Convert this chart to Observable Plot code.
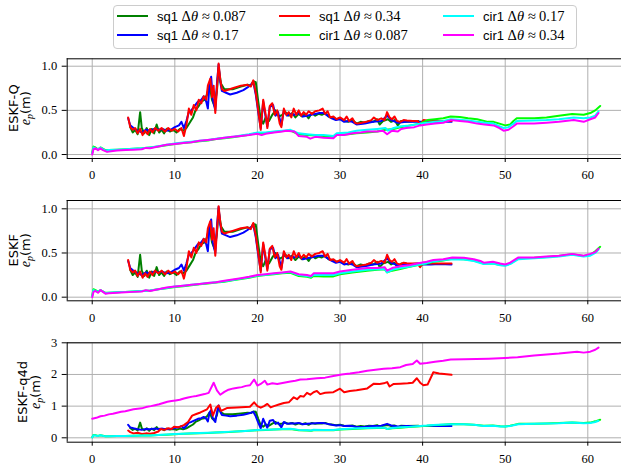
<!DOCTYPE html>
<html><head><meta charset="utf-8">
<script src="https://cdn.jsdelivr.net/npm/d3@7"></script>
<script src="https://cdn.jsdelivr.net/npm/@observablehq/plot@0.6"></script>
<style>
html,body{margin:0;padding:0;background:#fff;overflow:hidden;}
#fig{position:relative;width:621px;height:468px;overflow:hidden;background:#fff;}
.panel{position:absolute;left:0;}
#legend{position:absolute;left:113px;top:5px;width:462px;height:42px;border:1px solid #cccccc;border-radius:4px;background:#fff;}
.swatch{position:absolute;width:31px;height:2px;}
.lbl{position:absolute;white-space:nowrap;font-size:14.5px;line-height:18px;height:18px;color:#000;}
.sf{font-family:"Liberation Sans";font-size:13px;}
.mi{font-family:"Liberation Serif";font-style:italic;}
.mr{font-family:"Liberation Serif";}
</style></head>
<body><div id="fig"><div id="legend"></div></div>
<script>
// ---------- categories / labels ----------
const seriesNames = ["sq1","sq1","sq1","cir1","cir1","cir1"];
const seriesDtheta = ["0.087","0.17","0.34","0.087","0.17","0.34"];
const seriesColors = ["#008000","#0000ff","#ff0000","#00ff00","#00ffff","#ff00ff"];
const panelLabels = ["ESKF-Q","ESKF","ESKF-q4d"];
const xTicks = [0,10,20,30,40,50,60];
const yTicksAB = [0,0.5,1.0];
const yTicksC = [0,1,2,3];

// ---------- series values [t, e_p] ----------
const sq1_087 = [[4.6,0.31],[4.9,0.25],[5.2,0.28],[5.5,0.23],[5.8,0.48],[6.0,0.3],[6.3,0.24],[6.6,0.3],[6.9,0.22],[7.2,0.29],[7.5,0.24],[7.8,0.34],[8.1,0.25],[8.4,0.28],[8.7,0.24],[9.0,0.29],[9.4,0.26],[9.8,0.28],[10.2,0.25],[10.6,0.29],[11.0,0.27],[11.4,0.3],[11.8,0.36],[12.2,0.42],[12.5,0.5],[12.9,0.55],[13.2,0.6],[13.6,0.62],[13.9,0.68],[14.2,0.8],[14.5,0.62],[14.8,0.55],[15.1,0.72],[15.3,0.98],[15.6,0.8],[16.0,0.74],[16.5,0.74],[17,0.74],[18,0.77],[18.8,0.79],[19.2,0.78],[19.5,0.83],[19.8,0.82],[20.1,0.6],[20.4,0.4],[20.7,0.35],[21,0.42],[21.4,0.38],[21.8,0.45],[22.2,0.5],[22.6,0.43],[23,0.45],[23.4,0.48],[23.8,0.44],[24.2,0.47],[24.6,0.42],[25,0.46],[25.4,0.43],[25.8,0.46],[26.2,0.41],[26.6,0.47],[27,0.44],[27.4,0.46],[27.8,0.45],[28.2,0.47],[28.6,0.43],[29,0.42],[29.5,0.4],[30,0.41],[30.5,0.38],[31,0.37],[31.5,0.39],[32,0.35],[32.5,0.37],[33,0.36],[33.5,0.38],[34,0.37],[34.5,0.4],[34.8,0.34],[35.2,0.38],[35.8,0.4],[36.2,0.37],[36.6,0.39],[37,0.33],[37.4,0.38],[38,0.37],[39.5,0.38]];
const sq1_017 = [[4.35,0.41],[4.6,0.33],[5,0.3],[5.5,0.27],[6,0.25],[6.5,0.28],[7,0.27],[7.5,0.29],[8,0.28],[8.5,0.29],[9,0.27],[9.5,0.28],[10,0.31],[10.5,0.33],[10.8,0.37],[11.1,0.3],[11.4,0.38],[11.7,0.48],[12,0.5],[12.4,0.55],[12.8,0.6],[13.2,0.62],[13.5,0.66],[13.8,0.6],[14.0,0.52],[14.2,0.8],[14.4,0.88],[14.6,0.62],[14.9,0.5],[15.1,0.8],[15.3,1.02],[15.5,0.82],[15.7,0.72],[16.2,0.7],[16.7,0.68],[17.5,0.7],[18.3,0.73],[18.8,0.76],[19.2,0.79],[19.5,0.82],[19.8,0.68],[20.1,0.48],[20.4,0.3],[20.7,0.6],[21.0,0.42],[21.2,0.32],[21.5,0.54],[21.9,0.56],[22.2,0.44],[22.5,0.48],[22.9,0.33],[23.2,0.5],[23.6,0.44],[24,0.46],[24.5,0.45],[25,0.47],[25.5,0.43],[26,0.44],[26.5,0.45],[27,0.46],[27.5,0.47],[28,0.47],[28.5,0.44],[29,0.41],[29.5,0.39],[30,0.4],[30.5,0.37],[31,0.38],[31.5,0.37],[32,0.34],[33,0.35],[34,0.37],[35,0.38],[35.7,0.44],[36.2,0.39],[37,0.36],[38,0.37],[39,0.37],[40,0.37],[41,0.37],[42,0.375],[43.5,0.37]];
const sq1_034 = [[4.35,0.42],[4.6,0.31],[4.9,0.28],[5.2,0.3],[5.5,0.24],[5.8,0.29],[6.1,0.22],[6.4,0.27],[6.7,0.23],[7.0,0.29],[7.3,0.25],[7.6,0.3],[8.0,0.27],[8.4,0.3],[8.8,0.26],[9.2,0.3],[9.6,0.27],[10.0,0.29],[10.4,0.26],[10.8,0.3],[11.1,0.21],[11.4,0.33],[11.7,0.52],[12.0,0.45],[12.3,0.56],[12.6,0.5],[12.9,0.62],[13.2,0.58],[13.5,0.66],[13.8,0.62],[14.0,0.78],[14.3,0.86],[14.5,0.65],[14.7,0.78],[14.9,0.47],[15.1,0.75],[15.3,1.03],[15.5,0.85],[15.7,0.74],[16.0,0.72],[17,0.75],[18,0.78],[18.8,0.79],[19.2,0.77],[19.5,0.84],[19.8,0.7],[20.1,0.5],[20.4,0.28],[20.7,0.62],[21.0,0.45],[21.2,0.3],[21.5,0.55],[21.8,0.58],[22.1,0.45],[22.4,0.5],[22.7,0.35],[22.9,0.31],[23.2,0.52],[23.5,0.45],[23.8,0.48],[24.1,0.42],[24.4,0.52],[24.7,0.45],[25.0,0.5],[25.3,0.44],[25.6,0.48],[25.9,0.45],[26.2,0.49],[26.6,0.46],[27.0,0.49],[27.5,0.5],[27.9,0.52],[28.2,0.46],[28.5,0.49],[28.8,0.42],[29.2,0.43],[29.6,0.4],[30.0,0.42],[30.5,0.39],[30.8,0.43],[31.1,0.38],[31.5,0.41],[31.8,0.36],[32.1,0.35],[32.6,0.36],[33.2,0.37],[33.8,0.39],[34.1,0.42],[34.5,0.39],[35.0,0.41],[35.4,0.39],[35.7,0.48],[36.0,0.42],[36.3,0.4],[36.6,0.43],[36.9,0.38],[37.3,0.37],[37.7,0.39],[38.1,0.385],[38.8,0.38],[39.4,0.38],[39.7,0.34],[40.1,0.39],[41,0.38],[42,0.38],[43.5,0.38]];

const cir1_087_Q = [[0,0.02],[0.15,0.09],[0.4,0.08],[0.7,0.06],[1.0,0.08],[1.6,0.05],[2,0.05],[3,0.055],[4,0.06],[5,0.065],[6,0.07],[7,0.08],[8,0.09],[9,0.105],[10,0.12],[11,0.13],[12,0.14],[13,0.15],[14,0.16],[15,0.175],[16,0.185],[17,0.195],[18,0.21],[19,0.225],[20,0.245],[21,0.245],[22,0.255],[23,0.265],[24,0.27],[25,0.23],[26,0.22],[27,0.215],[28,0.21],[29.2,0.2],[29.6,0.22],[31,0.23],[32,0.24],[33.3,0.25],[34.5,0.26],[35.5,0.28],[36.5,0.29],[37.4,0.31],[38.5,0.33],[39.7,0.35],[40.6,0.39],[41.5,0.4],[42.5,0.41],[43.4,0.43],[44.5,0.425],[45.5,0.41],[46.6,0.4],[47.9,0.37],[48.6,0.37],[49.3,0.35],[50,0.33],[50.6,0.34],[51,0.38],[51.4,0.41],[53.5,0.41],[55,0.42],[56.5,0.44],[58.1,0.46],[59.5,0.45],[60.3,0.47],[60.9,0.5],[61.5,0.55]];
const cir1_017_Q = [[0,0.01],[0.15,0.08],[0.4,0.07],[0.7,0.06],[1.0,0.08],[1.3,0.06],[1.6,0.045],[2,0.05],[3,0.055],[4,0.06],[5,0.065],[6,0.07],[7,0.08],[8,0.095],[9,0.11],[10,0.125],[11,0.135],[12,0.145],[13,0.155],[14,0.165],[15,0.18],[16,0.19],[17,0.2],[18,0.215],[19,0.23],[20,0.25],[21,0.25],[22,0.26],[23,0.27],[24,0.28],[25,0.24],[26,0.23],[27,0.22],[28,0.22],[29.2,0.21],[29.6,0.24],[31,0.25],[32,0.27],[33.3,0.28],[34.5,0.29],[35.5,0.3],[35.8,0.27],[36.5,0.3],[37.4,0.32],[38.5,0.33],[39.7,0.35],[40.5,0.36],[41.5,0.37],[42.5,0.38],[43.4,0.4],[44.5,0.395],[45.5,0.385],[46.6,0.37],[47.5,0.36],[48.6,0.35],[49.3,0.32],[49.8,0.3],[50.4,0.31],[51,0.35],[51.4,0.38],[53.5,0.385],[55,0.39],[56.5,0.4],[58.3,0.42],[59.5,0.41],[60.3,0.42],[60.9,0.44],[61.3,0.49]];
const cir1_034_Q = [[0,0.0],[0.15,0.06],[0.4,0.07],[0.7,0.05],[1.0,0.07],[1.3,0.05],[1.8,0.03],[2.5,0.04],[3,0.045],[4,0.05],[5,0.055],[6,0.06],[6.5,0.075],[7,0.07],[8,0.09],[9,0.11],[10,0.12],[11,0.13],[12,0.14],[13,0.155],[14,0.165],[15,0.175],[16,0.19],[17,0.2],[18,0.21],[19,0.22],[20,0.235],[20.5,0.22],[21,0.235],[22,0.25],[23,0.26],[23.5,0.27],[24.5,0.26],[25,0.21],[26,0.2],[26.4,0.18],[27,0.2],[28,0.19],[29.2,0.185],[29.6,0.22],[30.5,0.22],[31.5,0.24],[32.5,0.25],[33.3,0.26],[34.5,0.26],[35.2,0.27],[35.7,0.23],[36.3,0.27],[37,0.26],[37.4,0.29],[38,0.3],[39,0.31],[39.7,0.33],[40.5,0.34],[41.5,0.35],[42.5,0.36],[43.4,0.39],[44.5,0.38],[45.5,0.37],[46.6,0.35],[47.5,0.34],[48.6,0.33],[49.3,0.3],[49.8,0.27],[50.4,0.28],[51,0.32],[51.4,0.35],[52.5,0.35],[53.5,0.35],[55,0.36],[56.5,0.37],[58.3,0.39],[59.5,0.37],[60.3,0.4],[60.9,0.42],[61.3,0.47]];

const cir1_087_E = [[0,0.02],[0.15,0.09],[0.4,0.08],[0.7,0.06],[1,0.08],[1.6,0.05],[2,0.05],[3,0.055],[4,0.06],[5,0.065],[6,0.07],[7,0.075],[8,0.09],[9,0.1],[10,0.115],[11,0.125],[12,0.135],[13,0.145],[14,0.155],[15,0.165],[16,0.175],[17,0.19],[18,0.205],[19,0.22],[20,0.24],[21,0.25],[22,0.26],[23,0.27],[24,0.275],[25,0.24],[26,0.23],[26.5,0.22],[26.8,0.24],[28,0.235],[29.2,0.235],[30,0.26],[31.5,0.28],[33.3,0.3],[34.5,0.31],[35.4,0.315],[35.7,0.28],[36.3,0.3],[37.3,0.32],[38.3,0.34],[39.3,0.36],[40.5,0.38],[41.3,0.4],[42.5,0.415],[43.6,0.435],[45,0.43],[46.2,0.415],[47.4,0.38],[48.5,0.385],[49.4,0.365],[50,0.36],[50.6,0.38],[51.6,0.44],[53.5,0.445],[55,0.455],[56.5,0.465],[58.1,0.485],[59.5,0.465],[60.3,0.48],[60.9,0.52],[61.5,0.57]];
const cir1_017_E = [[0,0.01],[0.15,0.08],[0.4,0.07],[0.7,0.06],[1,0.08],[1.6,0.045],[2,0.05],[3,0.055],[4,0.06],[5,0.065],[6,0.07],[7,0.075],[8,0.09],[9,0.105],[10,0.12],[11,0.13],[12,0.14],[13,0.15],[14,0.16],[15,0.17],[16,0.18],[17,0.195],[18,0.21],[19,0.225],[20,0.245],[21,0.255],[22,0.265],[23,0.275],[24,0.285],[25,0.25],[26,0.24],[26.5,0.23],[26.8,0.255],[28,0.25],[29.2,0.25],[30,0.27],[31.5,0.29],[33.3,0.31],[34.5,0.315],[35.4,0.32],[35.7,0.28],[36.3,0.31],[37.3,0.33],[38.3,0.345],[39.3,0.365],[40.5,0.385],[41.3,0.405],[42.5,0.42],[43.6,0.43],[45,0.425],[46.2,0.41],[47.4,0.375],[48.5,0.38],[49.4,0.36],[50,0.355],[50.6,0.375],[51.6,0.43],[53.5,0.44],[55,0.45],[56.5,0.46],[58.1,0.48],[59.5,0.46],[60.3,0.47],[60.9,0.5],[61.3,0.54]];
const cir1_034_E = [[0,0.0],[0.15,0.06],[0.4,0.07],[0.7,0.05],[1.0,0.08],[1.3,0.06],[1.6,0.04],[2,0.045],[3,0.05],[4,0.055],[5,0.06],[6,0.065],[6.5,0.08],[7,0.07],[8,0.09],[9,0.11],[10,0.12],[11,0.13],[12,0.14],[13,0.15],[14,0.16],[15,0.17],[16,0.185],[17,0.2],[18,0.215],[19,0.23],[20,0.25],[21,0.26],[22,0.27],[23,0.28],[24,0.29],[25,0.26],[26,0.25],[26.5,0.24],[26.8,0.27],[28,0.27],[29.2,0.27],[30,0.29],[31.5,0.31],[33.3,0.33],[34.5,0.33],[35.4,0.34],[35.7,0.3],[36.3,0.33],[37.3,0.35],[38.3,0.36],[39.3,0.38],[39.8,0.39],[40.5,0.4],[41.3,0.42],[42.5,0.43],[43.6,0.45],[45,0.445],[46.2,0.43],[47,0.41],[47.4,0.39],[48.5,0.4],[49.4,0.38],[50,0.37],[50.6,0.39],[51.6,0.45],[53.5,0.45],[55,0.46],[56.5,0.47],[58.1,0.49],[59.5,0.47],[60.3,0.49],[60.9,0.51],[61.3,0.55]];

const sq1_034_q4d = [[4.35,0.23],[4.6,0.18],[5,0.14],[5.5,0.16],[6,0.12],[6.5,0.14],[7,0.13],[7.5,0.15],[8,0.2],[8.3,0.28],[8.7,0.25],[9.2,0.3],[9.6,0.28],[9.9,0.35],[10.4,0.33],[11.1,0.4],[11.6,0.5],[12.1,0.7],[12.6,0.75],[13.1,0.8],[13.5,0.85],[13.9,0.9],[14.3,1.05],[14.6,0.7],[15.0,0.95],[15.3,1.02],[15.6,0.85],[16.3,0.94],[17.5,0.96],[19.1,0.98],[19.6,1.12],[20.0,1.0],[20.4,0.95],[20.8,1.0],[21.2,1.07],[21.6,0.96],[22,1.0],[22.6,1.05],[23.2,1.1],[23.8,1.12],[24.4,1.28],[24.8,1.22],[25.2,1.32],[25.6,1.3],[26,1.42],[26.4,1.36],[26.8,1.44],[27.2,1.48],[27.6,1.38],[28.2,1.42],[29.2,1.44],[30,1.55],[30.5,1.44],[31.2,1.48],[32,1.5],[33.3,1.56],[34.1,1.71],[34.8,1.7],[35.3,1.72],[35.7,1.76],[36,1.62],[36.5,1.7],[37.3,1.71],[38.2,1.72],[38.8,1.74],[39.3,1.88],[39.7,1.74],[40.1,1.66],[40.6,1.68],[41.3,2.07],[42,2.03],[43.5,1.99]];
const cir1_034_q4d = [[0,0.6],[0.5,0.63],[1,0.68],[1.5,0.7],[2,0.74],[2.5,0.76],[3,0.79],[3.5,0.82],[4,0.84],[4.5,0.87],[5,0.9],[5.5,0.92],[6,0.93],[6.5,0.97],[7.1,1.0],[7.6,1.03],[8.1,1.06],[8.6,1.1],[9.1,1.14],[9.6,1.16],[10.1,1.18],[10.6,1.2],[11.1,1.24],[11.6,1.27],[12.1,1.3],[12.6,1.32],[13.1,1.35],[13.6,1.38],[14.1,1.42],[14.7,1.74],[15.1,1.5],[15.5,1.36],[16,1.45],[16.5,1.52],[17.1,1.56],[17.6,1.58],[18.1,1.6],[18.6,1.64],[19.1,1.66],[19.6,1.84],[20,1.65],[20.4,1.7],[20.9,1.8],[21.2,1.68],[21.8,1.72],[22.4,1.7],[23.2,1.74],[24,1.78],[24.6,1.8],[25.2,1.84],[26,1.85],[27.2,1.88],[28.2,1.9],[29.2,1.95],[30.2,2.0],[31.2,2.03],[32.3,2.07],[33.3,2.12],[34.3,2.15],[35.3,2.18],[36.3,2.2],[37.3,2.23],[38,2.3],[38.8,2.33],[39.3,2.44],[39.7,2.34],[40.5,2.36],[41.5,2.4],[42.5,2.43],[43.4,2.47],[45,2.48],[46.5,2.49],[48,2.5],[50,2.52],[51.5,2.54],[53.5,2.6],[55,2.63],[56.5,2.66],[58.7,2.72],[59.5,2.69],[60.3,2.72],[60.9,2.78],[61.3,2.85]];

// ---------- layout configuration ----------
const W = 621;
const xDomain = [-3.03, 64.08];
const panels = [
  {label: panelLabels[0], series: [sq1_087, sq1_017, sq1_034, cir1_087_Q, cir1_017_Q, cir1_034_Q],
   yTicks: yTicksAB, yDomain: [-0.045, 1.084], fmt: d3.format(".1f"), top: 50, h: 136, mt: 8.3, mb: 28, l1: 18.3, l2: 29.5},
  {label: panelLabels[1], series: [sq1_087, sq1_017, sq1_034, cir1_087_E, cir1_017_E, cir1_034_E],
   yTicks: yTicksAB, yDomain: [-0.041, 1.094], fmt: d3.format(".1f"), top: 190, h: 138, mt: 10, mb: 27.7, l1: 18.3, l2: 29.5},
  {label: panelLabels[2], series: [sq1_087, sq1_017, sq1_034_q4d, cir1_087_E, cir1_017_E, cir1_034_q4d],
   yTicks: yTicksC, yDomain: [-0.139, 3.0], fmt: d3.format("d"), top: 332, h: 136, mt: 10.3, mb: 26.3, l1: 27, l2: 40}
];

const fig = document.getElementById("fig");

panels.forEach(p => {
  const marks = [
    Plot.gridX({ticks: xTicks, stroke: "#b0b0b0", strokeOpacity: 1, strokeWidth: 1}),
    Plot.gridY({ticks: p.yTicks, stroke: "#b0b0b0", strokeOpacity: 1, strokeWidth: 1}),
    ...p.series.map((s, i) => Plot.line(s, {x: d => d[0], y: d => d[1], stroke: seriesColors[i], strokeWidth: 2})),
    Plot.ruleY([p.yDomain[0], p.yDomain[1]], {stroke: "#000", strokeWidth: 1}),
    Plot.ruleX([xDomain[0]], {stroke: "#000", strokeWidth: 1}),
    Plot.axisX({ticks: xTicks, tickSize: 4, tickPadding: 8, tickFormat: d => String(d), label: null}),
    Plot.axisY({ticks: p.yTicks, tickSize: 5, tickPadding: 5, tickFormat: p.fmt, label: null})
  ];
  const svg = Plot.plot({
    width: W, height: p.h,
    marginTop: p.mt, marginBottom: p.mb, marginLeft: 66.7, marginRight: 0,
    x: {domain: xDomain},
    y: {domain: p.yDomain},
    style: {fontFamily: "Liberation Serif", fontSize: "12.5px", background: "transparent", color: "#000"},
    marks
  });
  svg.classList.add("panel");
  svg.style.top = p.top + "px";
  svg.style.position = "absolute";
  svg.style.left = "0px";
  const cy = p.mt + (p.h - p.mt - p.mb) / 2;
  const g = d3.select(svg).append("g").attr("transform", `translate(0,${cy}) rotate(-90)`);
  g.append("text").attr("x", 0).attr("y", p.l1).attr("text-anchor", "middle")
    .attr("font-family", "DejaVu Sans").attr("font-size", 13).attr("fill", "#000").text(p.label);
  const t2 = g.append("text").attr("x", 0).attr("y", p.l2).attr("text-anchor", "middle").attr("fill", "#000");
  t2.append("tspan").attr("font-family", "Liberation Serif").attr("font-style", "italic").attr("font-size", 14).text("e");
  t2.append("tspan").attr("font-family", "Liberation Serif").attr("font-style", "italic").attr("font-size", 10).attr("dy", 3).text("p");
  t2.append("tspan").attr("font-family", "DejaVu Sans").attr("font-size", 13).attr("dy", -3).text("(m)");
  fig.appendChild(svg);
});

// ---------- legend ----------
const legendPos = [[117, 15.7], [117, 35], [279, 15.7], [279, 35], [443, 15.7], [443, 35]];
fig.appendChild(document.getElementById("legend"));
seriesNames.forEach((name, i) => {
  const [lx, ly] = legendPos[i];
  const sw = document.createElement("div");
  sw.className = "swatch";
  sw.style.left = lx + "px";
  sw.style.top = (ly - 1) + "px";
  sw.style.background = seriesColors[i];
  fig.appendChild(sw);
  const lb = document.createElement("div");
  lb.className = "lbl";
  lb.style.left = (lx + 40) + "px";
  lb.style.top = (ly - 9) + "px";
  lb.innerHTML = `<span class="sf">${name}</span> <span class="mr">\u0394</span><span class="mi">\u03b8</span><span class="mr" style="margin:0 3px 0 4px">\u2248</span><span class="mr">${seriesDtheta[i]}</span>`;
  fig.appendChild(lb);
});
</script></body></html>
